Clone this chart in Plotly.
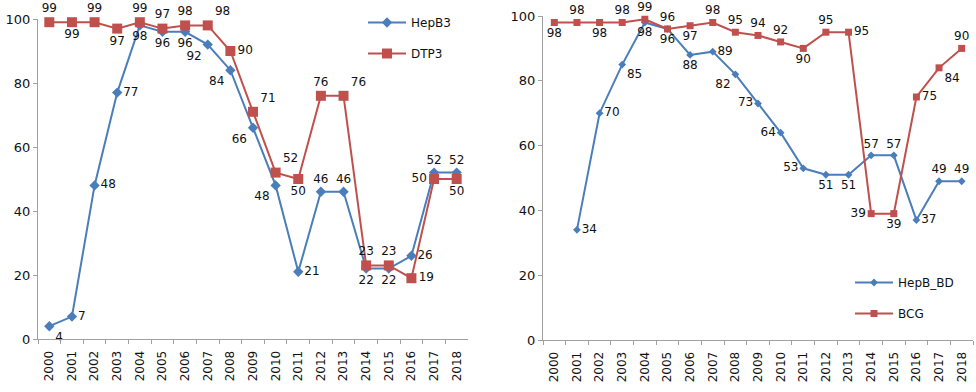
import plotly.graph_objects as go

years = [str(y) for y in range(2000, 2019)]
hepb3 = [4, 7, 48, 77, 98, 96, 96, 92, 84, 66, 48, 21, 46, 46, 22, 22, 26, 52, 52]
dtp3 = [99, 99, 99, 97, 99, 97, 98, 98, 90, 71, 52, 50, 76, 76, 23, 23, 19, 50, 50]
hepb_bd = [None, 34, 70, 85, 98, 96, 88, 89, 82, 73, 64, 53, 51, 51, 57, 57, 37, 49, 49]
bcg = [98, 98, 98, 98, 99, 96, 97, 98, 95, 94, 92, 90, 95, 95, 39, 39, 75, 84, 90]

hepb3_pos = ["bottom right", "middle right", "middle right", "middle right", "bottom center",
             "bottom center", "bottom center", "bottom left", "bottom left", "bottom left",
             "bottom left", "middle right", "top center", "top center", "bottom center",
             "bottom center", "middle right", "top center", "top center"]
dtp3_pos = ["top center", "bottom center", "top center", "bottom center", "top center",
            "top center", "top center", "top right", "middle right", "top right",
            "top right", "bottom center", "top center", "top right", "top center",
            "top center", "middle right", "middle left", "bottom center"]
hepb_bd_pos = ["middle right", "middle right", "middle right", "bottom right", "bottom center",
               "bottom center", "bottom center", "middle right", "bottom left", "middle left",
               "middle left", "middle left", "bottom center", "bottom center", "top center",
               "top center", "middle right", "top center", "top center"]
bcg_pos = ["bottom center", "top center", "bottom center", "top center", "top center",
           "top center", "bottom center", "top center", "top center", "top center",
           "top center", "bottom center", "top center", "middle right", "middle left",
           "bottom center", "middle right", "bottom right", "top center"]

BLUE = "#4A7EBB"
RED = "#C0504D"
FONT = "DejaVu Sans"

def txt(vals):
    return ["" if v is None else str(v) for v in vals]

fig = go.Figure()
fig.add_trace(go.Scatter(x=years, y=hepb3, name="HepB3", mode="lines+markers+text",
                         text=txt(hepb3), textposition=hepb3_pos,
                         line=dict(color=BLUE, width=2),
                         marker=dict(symbol="diamond", size=8, color=BLUE),
                         xaxis="x", yaxis="y", legend="legend", legendgroup="a",
                         cliponaxis=False, textfont=dict(size=12, color="#111")))
fig.add_trace(go.Scatter(x=years, y=dtp3, name="DTP3", mode="lines+markers+text",
                         text=txt(dtp3), textposition=dtp3_pos,
                         line=dict(color=RED, width=2),
                         marker=dict(symbol="square", size=10, color=RED),
                         xaxis="x", yaxis="y", legend="legend", legendgroup="b",
                         cliponaxis=False, textfont=dict(size=12, color="#111")))
fig.add_trace(go.Scatter(x=years, y=hepb_bd, name="HepB_BD", mode="lines+markers+text",
                         text=txt(hepb_bd), textposition=hepb_bd_pos,
                         line=dict(color=BLUE, width=2),
                         marker=dict(symbol="diamond", size=6, color=BLUE),
                         xaxis="x2", yaxis="y2", legend="legend2", legendgroup="c",
                         cliponaxis=False, textfont=dict(size=12, color="#111")))
fig.add_trace(go.Scatter(x=years, y=bcg, name="BCG", mode="lines+markers+text",
                         text=txt(bcg), textposition=bcg_pos,
                         line=dict(color=RED, width=2),
                         marker=dict(symbol="square", size=7, color=RED),
                         xaxis="x2", yaxis="y2", legend="legend2", legendgroup="d",
                         cliponaxis=False, textfont=dict(size=12, color="#111")))

xcommon = dict(type="category", showgrid=False, showline=True, linecolor="#A0A0A0",
               ticks="outside", ticklen=4, tickcolor="#A0A0A0", tickson="boundaries",
               tickangle=-90, tickfont=dict(size=12, color="#111", family=FONT),
               ticklabelstandoff=6,
               range=[-0.5, 18.5], zeroline=False, automargin=False)
ycommon = dict(range=[0, 100], dtick=20, showgrid=False, showline=True, linecolor="#A0A0A0",
               ticks="outside", ticklen=4, tickcolor="#A0A0A0",
               tickfont=dict(size=13, color="#111", family=FONT), zeroline=False,
               automargin=False)

fig.update_layout(
    width=976, height=392,
    margin=dict(l=0, r=0, t=0, b=0, autoexpand=False),
    paper_bgcolor="white", plot_bgcolor="white",
    font=dict(family=FONT, size=12, color="#111"),
    xaxis=dict(domain=[38/976, 468/976], anchor="y", **xcommon),
    yaxis=dict(domain=[53/392, 373/392], anchor="x", **ycommon),
    xaxis2=dict(domain=[543/976, 973/976], anchor="y2", **xcommon),
    yaxis2=dict(domain=[52/392, 376/392], anchor="x2", **ycommon),
    legend=dict(x=363/976, y=1 - 8/392, xanchor="left", yanchor="top", itemwidth=38,
                bgcolor="rgba(0,0,0,0)", font=dict(size=12), tracegroupgap=12),
    legend2=dict(x=850/976, y=1 - 268/392, xanchor="left", yanchor="top", itemwidth=38,
                 bgcolor="rgba(0,0,0,0)", font=dict(size=12), tracegroupgap=12),
    showlegend=True,
)

fig.write_html("out.html", config={"displayModeBar": False},
               post_script="document.body.style.margin='0';document.body.style.overflow='hidden';")
